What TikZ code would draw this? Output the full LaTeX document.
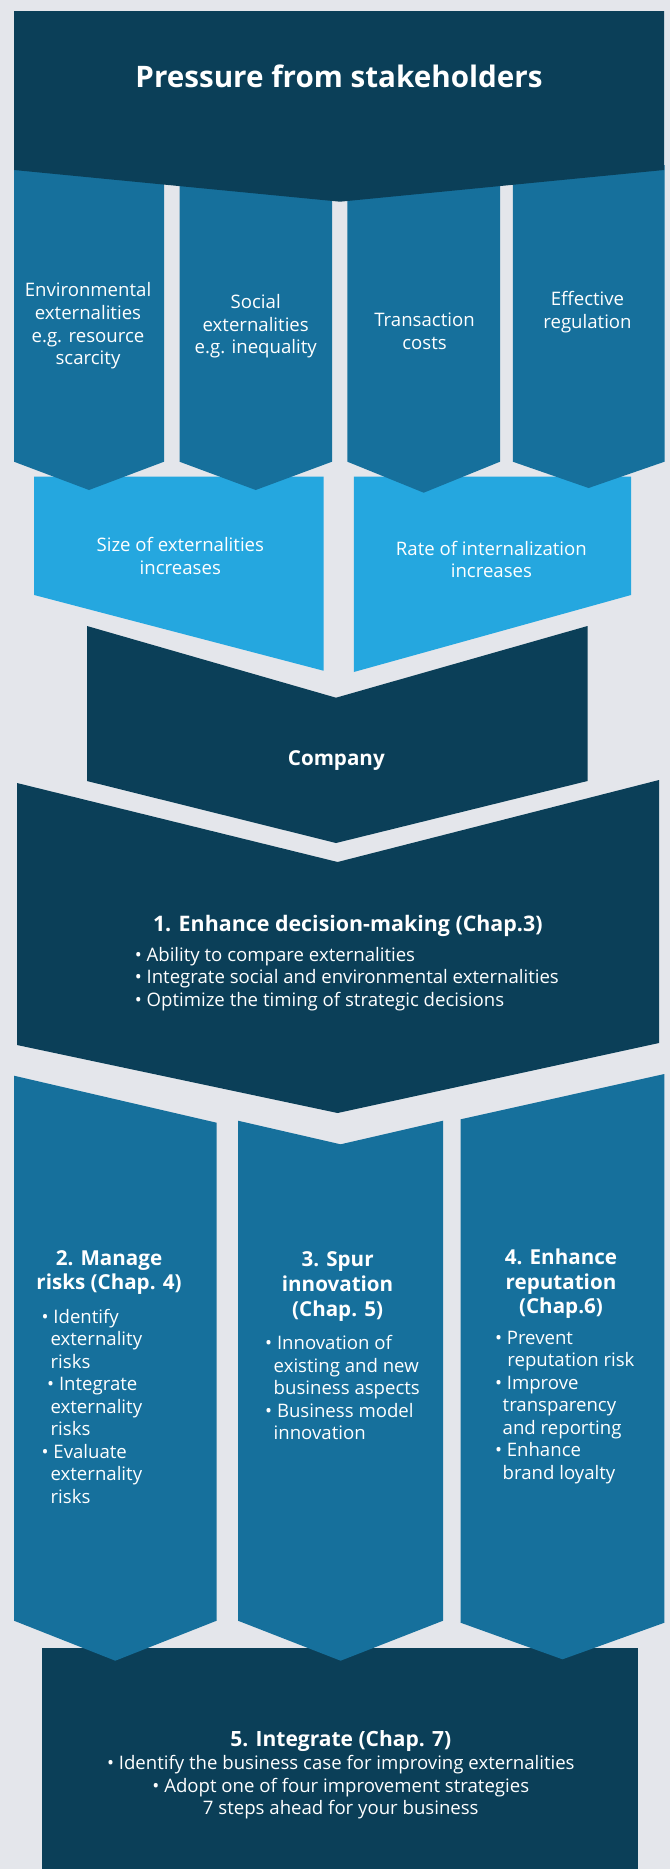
\documentclass[tikz,border=0pt]{standalone}
\usepackage{fontspec}
\setmainfont{Open Sans}
\definecolor{bgc}{HTML}{E4E6EB}
\definecolor{navyc}{HTML}{0B3F58}
\definecolor{midc}{HTML}{16709C}
\definecolor{lightc}{HTML}{25A7DF}
\tikzset{
  navybox/.style={fill=navyc},
  midbox/.style={fill=midc},
  lightbox/.style={fill=lightc},
  txt/.style={text=white, inner sep=0pt, align=center, font=\fontsize{18.6}{22.6}\selectfont},
  ltxt/.style={text=white, inner sep=0pt, align=left, font=\fontsize{18.6}{22.5}\selectfont},
  htxt/.style={text=white, inner sep=0pt, align=center, font=\bfseries\fontsize{20.6}{24.8}\selectfont},
  ttl/.style={text=white, inner sep=0pt, font=\bfseries\fontsize{29.6}{34}\selectfont},
}
\begin{document}
\begin{tikzpicture}[x=1pt,y=-1pt]
\fill[bgc] (0,0) rectangle (670,1869);
\useasboundingbox (0,0) rectangle (670,1869);

% light blue boxes
\fill[lightbox] (34.2,476.7) -- (323.5,476.7) -- (323.5,670.7) -- (34.2,595) -- cycle;
\fill[lightbox] (353.8,476.7) -- (631,476.7) -- (631,595) -- (353.8,672) -- cycle;

% row of four columns
\fill[midbox] (14,165) -- (164,165) -- (164,461.7) -- (89,490) -- (14,461.7) -- cycle;
\fill[midbox] (179.5,165) -- (332,165) -- (332,461.7) -- (255.7,490) -- (179.5,461.7) -- cycle;
\fill[midbox] (347.4,165) -- (500,165) -- (500,461.7) -- (423.7,492.7) -- (347.4,461.7) -- cycle;
\fill[midbox] (512.8,165) -- (664.5,165) -- (664.5,461.7) -- (588.6,488) -- (512.8,461.7) -- cycle;

% top box
\fill[navybox] (14,11) -- (664,11) -- (664,170) -- (340,201.7) -- (14,170) -- cycle;

% company
\fill[navybox] (87,626) -- (336,697.7) -- (587.5,626) -- (587.5,781) -- (336,843) -- (87,781) -- cycle;

% enhance decision-making
\fill[navybox] (17,783) -- (337.6,862) -- (659,780) -- (659,1043) -- (337.6,1113) -- (17,1045) -- cycle;

% final box
\fill[navybox] (41.9,1648) rectangle (638,1869);

% row of three columns
\fill[midbox] (14,1075.7) -- (216.6,1122.7) -- (216.6,1620.7) -- (115.3,1660.7) -- (14,1620.7) -- cycle;
\fill[midbox] (238,1120.7) -- (340.6,1144.3) -- (443,1120.7) -- (443,1620.7) -- (340.6,1660.7) -- (238,1620.7) -- cycle;
\fill[midbox] (460.6,1119.3) -- (664.4,1074) -- (664.4,1622.7) -- (562.5,1659.3) -- (460.6,1622.7) -- cycle;

% texts
\node[ttl] (title) at (339,76.5) {Pressure from stakeholders};

\node[txt] (env) at (88,326) {Environmental\\externalities\\e.g. resource\\scarcity};
\node[txt] (soc) at (255.7,326.5) {Social\\externalities\\e.g. inequality};
\node[txt] (trans) at (424.5,331.3) {Transaction\\costs};
\node[txt] (reg) at (587.5,312) {Effective\\regulation};

\node[txt] (size) at (180.3,556) {Size of externalities\\increases};
\node[txt] (rate) at (491.4,559.3) {Rate of internalization\\increases};

\node[htxt] (comp) at (336.3,760.5) {Company};

\node[htxt, font=\bfseries\fontsize{21.4}{24.8}\selectfont] (dm) at (347.8,926) {1. Enhance decision-making (Chap.3)};
\node[ltxt, anchor=west] (dmb) at (134.6,978.8) {• Ability to compare externalities\\• Integrate social and environmental externalities\\• Optimize the timing of strategic decisions};

\node[htxt] (risk) at (109,1272.5) {2. Manage\\risks (Chap. 4)};
\node[ltxt, anchor=west] (riskb) at (41.4,1406) {• Identify\\\hspace*{9pt}externality\\\hspace*{9pt}risks\\\hspace*{5.6pt}• Integrate\\\hspace*{9pt}externality\\\hspace*{9pt}risks\\• Evaluate\\\hspace*{9pt}externality\\\hspace*{9pt}risks};

\node[htxt] (innov) at (337.6,1286.3) {3. Spur\\innovation\\(Chap. 5)};
\node[ltxt, anchor=west] (innovb) at (265,1387.7) {• Innovation of\\\hspace*{8.5pt}existing and new\\\hspace*{8.5pt}business aspects\\• Business model\\\hspace*{8.5pt}innovation};

\node[htxt] (rep) at (561,1283.7) {4. Enhance\\reputation\\(Chap.6)};
\node[ltxt, anchor=west] (repb) at (494.8,1407.2) {• Prevent\\\hspace*{12.4pt}reputation risk\\• Improve\\\hspace*{7.7pt}transparency\\\hspace*{7.7pt}and reporting\\• Enhance\\\hspace*{7.7pt}brand loyalty};

\node[txt] (integ) at (340.8,1775) {{\bfseries\fontsize{21}{23.5}\selectfont 5. Integrate (Chap. 7)}\\• Identify the business case for improving externalities\\• Adopt one of four improvement strategies\\7 steps ahead for your business};
\end{tikzpicture}
\end{document}
